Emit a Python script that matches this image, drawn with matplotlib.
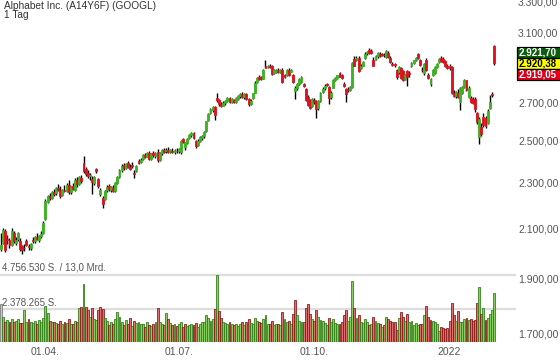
import matplotlib
matplotlib.use("Agg")
import matplotlib.pyplot as plt
from matplotlib.patches import Rectangle
from matplotlib.ticker import NullLocator

plt.rcParams['font.family'] = ['Liberation Sans', 'DejaVu Sans']

TITLE = "Alphabet Inc. (A14Y6F) (GOOGL)"
PERIOD = "1 Tag"

open_prices = [
    2015, 2040, 2090, 2055, 2052, 2030, 2078, 2040, 2055, 2048,
    2025, 2020, 2045, 2028, 2018, 2052, 2046, 2062, 2052, 2066,
    2081, 2140, 2214, 2238, 2230, 2258, 2252, 2276, 2268, 2245,
    2266, 2262, 2288, 2258, 2282, 2268, 2310, 2295, 2320, 2392,
    2362, 2342, 2330, 2318, 2298, 2362, 2318, 2248, 2230, 2225,
    2266, 2282, 2268, 2276, 2262, 2300, 2325, 2360, 2384, 2370,
    2390, 2374, 2380, 2345, 2352, 2400, 2395, 2410, 2432, 2422,
    2440, 2412, 2438, 2426, 2444, 2406, 2440, 2452, 2448, 2455,
    2446, 2450, 2444, 2450, 2448, 2445, 2508, 2470, 2490, 2512,
    2528, 2538, 2500, 2478, 2500, 2512, 2522, 2548, 2605, 2640,
    2660, 2675, 2722, 2712, 2692, 2682, 2695, 2708, 2722, 2700,
    2712, 2702, 2720, 2735, 2746, 2730, 2745, 2718, 2690, 2722,
    2752, 2812, 2842, 2838, 2830, 2902, 2895, 2905, 2900, 2862,
    2866, 2880, 2866, 2880, 2848, 2850, 2880, 2870, 2848, 2760,
    2775, 2800, 2812, 2800, 2770, 2730, 2710, 2682, 2712, 2705,
    2670, 2705, 2755, 2775, 2800, 2782, 2728, 2780, 2824, 2836,
    2860, 2848, 2802, 2772, 2772, 2768, 2785, 2942, 2935, 2950,
    2890, 2905, 2950, 2978, 2995, 2990, 2940, 2940, 2958, 2975,
    2970, 2968, 2955, 2980, 2950, 2912, 2912, 2880, 2865, 2890,
    2875, 2830, 2875, 2862, 2900, 2918, 2936, 2970, 2940, 2882,
    2860, 2940, 2850, 2800, 2850, 2860, 2895, 2925, 2950, 2945,
    2930, 2905, 2902, 2895, 2750, 2735, 2750, 2700, 2752, 2782,
    2820, 2730, 2725, 2718, 2720, 2640, 2520, 2570, 2620, 2615,
    2590, 2670, 2742, 3021,
]
high_prices = [
    2080, 2102, 2098, 2070, 2060, 2100, 2088, 2062, 2085, 2058,
    2032, 2035, 2056, 2036, 2040, 2062, 2066, 2080, 2072, 2088,
    2128, 2225, 2245, 2252, 2262, 2270, 2280, 2292, 2285, 2272,
    2290, 2296, 2310, 2285, 2300, 2320, 2325, 2330, 2335, 2424,
    2372, 2358, 2345, 2328, 2330, 2370, 2322, 2275, 2240, 2268,
    2290, 2295, 2285, 2290, 2302, 2332, 2362, 2385, 2392, 2392,
    2400, 2386, 2394, 2360, 2382, 2410, 2416, 2435, 2440, 2446,
    2448, 2440, 2450, 2446, 2460, 2445, 2458, 2466, 2462, 2468,
    2460, 2464, 2458, 2465, 2466, 2505, 2515, 2492, 2515, 2532,
    2545, 2545, 2506, 2508, 2526, 2530, 2550, 2602, 2642, 2670,
    2680, 2682, 2752, 2720, 2702, 2705, 2710, 2728, 2730, 2722,
    2718, 2730, 2738, 2752, 2756, 2748, 2752, 2725, 2715, 2752,
    2815, 2840, 2850, 2845, 2885, 2940, 2910, 2915, 2908, 2885,
    2885, 2890, 2885, 2890, 2856, 2885, 2890, 2885, 2855, 2790,
    2805, 2832, 2845, 2808, 2775, 2740, 2716, 2725, 2722, 2712,
    2712, 2755, 2785, 2800, 2808, 2790, 2760, 2828, 2842, 2852,
    2866, 2856, 2810, 2780, 2785, 2790, 2925, 2962, 2958, 2960,
    2912, 2930, 2982, 2992, 3008, 3000, 2955, 2965, 2985, 2985,
    2980, 2978, 2995, 2992, 2958, 2925, 2920, 2885, 2900, 2898,
    2880, 2858, 2880, 2875, 2925, 2940, 2955, 2978, 2945, 2895,
    2918, 2948, 2862, 2835, 2885, 2900, 2920, 2950, 2962, 2955,
    2938, 2915, 2912, 2900, 2768, 2762, 2772, 2785, 2790, 2830,
    2825, 2790, 2732, 2730, 2728, 2650, 2620, 2590, 2640, 2628,
    2662, 2740, 2758, 3024,
]
low_prices = [
    2005, 2035, 2002, 2035, 2020, 2028, 2040, 2030, 2048, 2008,
    1993, 2008, 2025, 2012, 2010, 2038, 2040, 2050, 2042, 2058,
    2076, 2135, 2208, 2220, 2225, 2240, 2245, 2262, 2232, 2240,
    2256, 2255, 2250, 2248, 2265, 2262, 2280, 2290, 2300, 2345,
    2330, 2322, 2310, 2250, 2290, 2345, 2275, 2238, 2186, 2220,
    2255, 2262, 2255, 2258, 2258, 2292, 2320, 2350, 2360, 2362,
    2368, 2360, 2370, 2320, 2348, 2386, 2390, 2405, 2415, 2418,
    2405, 2408, 2420, 2415, 2398, 2400, 2432, 2438, 2440, 2440,
    2438, 2440, 2436, 2442, 2440, 2435, 2488, 2455, 2486, 2508,
    2520, 2508, 2466, 2472, 2494, 2506, 2516, 2542, 2600, 2635,
    2650, 2605, 2700, 2680, 2675, 2678, 2685, 2700, 2695, 2695,
    2695, 2698, 2712, 2725, 2722, 2718, 2712, 2680, 2685, 2718,
    2748, 2805, 2822, 2822, 2826, 2888, 2888, 2892, 2852, 2855,
    2860, 2862, 2860, 2805, 2836, 2845, 2845, 2865, 2805, 2720,
    2768, 2795, 2808, 2785, 2705, 2678, 2662, 2675, 2690, 2615,
    2660, 2700, 2748, 2765, 2790, 2690, 2720, 2775, 2815, 2830,
    2838, 2828, 2785, 2700, 2755, 2760, 2778, 2900, 2930, 2865,
    2885, 2900, 2945, 2965, 2972, 2975, 2900, 2935, 2950, 2955,
    2958, 2955, 2950, 2948, 2920, 2900, 2898, 2830, 2858, 2830,
    2815, 2822, 2790, 2840, 2895, 2912, 2930, 2945, 2905, 2870,
    2852, 2875, 2828, 2790, 2845, 2855, 2888, 2920, 2925, 2922,
    2895, 2885, 2880, 2745, 2728, 2725, 2722, 2657, 2745, 2775,
    2760, 2725, 2695, 2690, 2650, 2585, 2484, 2525, 2570, 2565,
    2585, 2665, 2730, 2910,
]
close_prices = [
    2032, 2092, 2010, 2050, 2030, 2090, 2048, 2052, 2078, 2016,
    2012, 2018, 2030, 2022, 2036, 2046, 2062, 2056, 2068, 2076,
    2123, 2216, 2238, 2228, 2256, 2250, 2274, 2266, 2240, 2268,
    2262, 2290, 2258, 2280, 2270, 2312, 2292, 2325, 2306, 2352,
    2338, 2330, 2336, 2304, 2326, 2352, 2282, 2268, 2202, 2262,
    2280, 2270, 2278, 2262, 2298, 2326, 2358, 2378, 2366, 2388,
    2372, 2364, 2376, 2340, 2376, 2392, 2408, 2430, 2420, 2440,
    2410, 2436, 2428, 2442, 2404, 2440, 2452, 2446, 2456, 2446,
    2452, 2444, 2452, 2448, 2460, 2498, 2492, 2488, 2510, 2528,
    2540, 2512, 2472, 2500, 2520, 2525, 2545, 2598, 2636, 2664,
    2672, 2630, 2714, 2690, 2682, 2698, 2705, 2722, 2700, 2718,
    2700, 2722, 2732, 2746, 2728, 2742, 2718, 2692, 2708, 2748,
    2808, 2835, 2828, 2826, 2880, 2893, 2905, 2898, 2858, 2878,
    2880, 2866, 2878, 2812, 2842, 2880, 2850, 2880, 2812, 2778,
    2800, 2828, 2840, 2790, 2712, 2685, 2668, 2718, 2700, 2665,
    2705, 2748, 2772, 2790, 2796, 2722, 2752, 2820, 2836, 2848,
    2842, 2832, 2790, 2742, 2768, 2782, 2920, 2905, 2950, 2872,
    2905, 2925, 2975, 2985, 2978, 2980, 2905, 2958, 2980, 2962,
    2968, 2965, 2990, 2952, 2925, 2910, 2908, 2840, 2895, 2835,
    2820, 2850, 2840, 2858, 2920, 2935, 2950, 2950, 2910, 2878,
    2912, 2880, 2835, 2830, 2880, 2895, 2915, 2945, 2930, 2928,
    2900, 2892, 2890, 2752, 2735, 2755, 2730, 2780, 2782, 2820,
    2765, 2780, 2702, 2698, 2662, 2595, 2612, 2535, 2578, 2575,
    2655, 2702, 2738, 2920,
]
# Umsatz in Tausend Stueck
volumes_k = [
    2700, 1750, 1450, 1550, 1400, 1650, 1450, 1500, 1600, 1380,
    1350, 2250, 1400, 1600, 1450, 1350, 1500, 1300, 1550, 1450,
    1700, 2550, 2050, 1500, 1400, 1450, 1350, 1250, 1500, 1300,
    1400, 1350, 1600, 1250, 1300, 1500, 1450, 2400, 2500, 4100,
    2450, 2300, 1800, 2400, 1650, 1550, 2300, 2450, 2350, 1700,
    1500, 1200, 1450, 1250, 1600, 2150, 1800, 1450, 1200, 1550,
    1250, 1700, 1150, 1500, 1350, 1400, 1300, 1250, 1100, 1400,
    1200, 1150, 1300, 1450, 2400, 1400, 1250, 1200, 2050, 1600,
    1350, 1200, 1300, 1150, 1250, 1400, 1100, 1250, 1150, 1200,
    1300, 1200, 1350, 1050, 1250, 1450, 1400, 1900, 1700, 1500,
    1650, 2350, 4760, 2200, 1700, 1450, 1350, 1300, 1400, 1250,
    1200, 1300, 1150, 1250, 1400, 1200, 1450, 1600, 1350, 1300,
    1700, 1500, 1400, 1350, 1600, 1900, 1300, 1250, 1500, 1200,
    1250, 1300, 1200, 2100, 1600, 1450, 1500, 1250, 2000, 3000,
    1900, 1500, 1400, 1450, 2400, 2700, 2000, 1650, 1500, 2300,
    1800, 1550, 1500, 1350, 1200, 1700, 1450, 1600, 1350, 1300,
    1250, 1400, 1900, 2300, 1500, 1800, 4300, 2400, 1700, 1900,
    1450, 1350, 1600, 1400, 1200, 1300, 1800, 1500, 1350, 1250,
    1100, 1200, 1750, 1600, 1500, 1450, 1400, 850, 1700, 2100,
    1800, 1500, 2000, 1400, 1500, 1200, 1350, 1200, 1300, 1250,
    1900, 2550, 1800, 1550, 1500, 1450, 1300, 800, 1050, 1000,
    950, 1000, 1500, 2750, 1900, 1500, 2200, 1450, 1400, 1600,
    1700, 1550, 1600, 1500, 1550, 2770, 3880, 2000, 2440, 1560,
    1670, 1990, 2300, 3460,
]

month_ticks = [21, 84, 148, 212]
month_labels = ["01.04.", "01.07.", "01.10.", "2022"]
# 2.900,00 liegt unter den Kursboxen und ist im Original nicht zu sehen
price_ticks = [1700, 1900, 2100, 2300, 2500, 2700, 3100, 3300]

last_quotes = [2921.70, 2920.38, 2919.05]
quote_colors = [("#0b5e0b", "white"), ("#ffff00", "black"), ("#e0001a", "white")]

VOL_MAX = 4756530
TURNOVER = "13,0 Mrd."

W, H = 560, 363


def de_num(v, dec=2):
    s = f"{v:,.{dec}f}"
    return s.replace(",", "X").replace(".", ",").replace("X", ".")


def draw_volume(vax, idx):
    fills, edges = [], []
    for i in idx:
        if i == 0:
            fills.append("#c8c8c8"); edges.append("#777777")
        elif close_prices[i] >= close_prices[i - 1]:
            fills.append("#86cf60"); edges.append("#2a7a10")
        else:
            fills.append("#df7070"); edges.append("#861010")
    vax.bar(idx, volumes_k, width=0.9, color=fills, edgecolor=edges,
            linewidth=0.55, zorder=2)
    vmax_k = VOL_MAX / 1000
    vax.axhline(vmax_k, color="#dddddd", lw=1.6, zorder=1)
    vax.axhline(vmax_k / 2, color="#dddddd", lw=1.6, zorder=1)
    vax.set_ylim(0, vmax_k * 72 / 67)
    vax.set_yticks([])
    vax.set_xticks(month_ticks, month_labels)
    vax.tick_params(axis="x", length=0, pad=3.5, labelsize=7.5,
                    labelcolor="#555555")


def draw_candles(ax, idx):
    cols, bottoms, heights = [], [], []
    for o, c in zip(open_prices, close_prices):
        cols.append("#3cb521" if c >= o else "#e0101e")
        bottoms.append(min(o, c))
        heights.append(abs(c - o))
    ax.vlines(idx, low_prices, high_prices, color="black", lw=1.0, zorder=2)
    ax.bar(idx, heights, bottom=bottoms, width=0.9, color=cols,
           edgecolor=cols, linewidth=0.6, zorder=3)
    ax.set_yscale("log")
    ax.set_ylim(1673, 3311)
    ax.yaxis.set_minor_locator(NullLocator())
    ax.yaxis.tick_right()
    ax.set_yticks(price_ticks, [de_num(p) for p in price_ticks])
    ax.tick_params(axis="y", length=0, pad=1.5, labelsize=7.5,
                   labelcolor="#555555")
    ax.set_xticks([])


if __name__ == "__main__":
    idx = list(range(len(close_prices)))
    fig = plt.figure(figsize=(W / 100, H / 100), dpi=100)

    px = 493 / (len(idx) - 1)
    xlim = (-1 / px, (516 - 1) / px)

    vax = fig.add_axes([0, 21 / H, 516 / W, 72 / H])
    ax = fig.add_axes([0, 21 / H, 516 / W, 342 / H])
    for a in (vax, ax):
        a.set_xlim(*xlim)
        for s in a.spines.values():
            s.set_visible(False)
    ax.patch.set_visible(False)

    draw_volume(vax, idx)
    draw_candles(ax, idx)

    fig.text(4 / W, 1 - 6 / H, TITLE, va="center", fontsize=7.3, color="#333333")
    fig.text(4 / W, 1 - 15 / H, PERIOD, va="center", fontsize=7.3, color="#333333")
    fig.text(2 / W, 1 - 268 / H, f"{de_num(VOL_MAX, 0)} S. / {TURNOVER}",
             va="center", fontsize=7, color="#555555")
    fig.text(2 / W, 1 - 303 / H, f"{de_num(VOL_MAX / 2, 0)} S.",
             va="center", fontsize=7, color="#555555")

    # Kursboxen rechts
    box_top = 47
    box_h = 11
    for k, (q, (bg, fg)) in enumerate(zip(last_quotes, quote_colors)):
        top = box_top + k * box_h
        fig.add_artist(Rectangle((517 / W, 1 - (top + box_h) / H), 50 / W, box_h / H,
                                 transform=fig.transFigure, fc=bg, ec="black",
                                 lw=0.9, zorder=5))
        fig.text(519 / W, 1 - (top + box_h / 2 + 0.3) / H, de_num(q), ha="left",
                 va="center", fontsize=7, fontweight="bold", color=fg, zorder=6)

    fig.savefig("out.png", dpi=100)
